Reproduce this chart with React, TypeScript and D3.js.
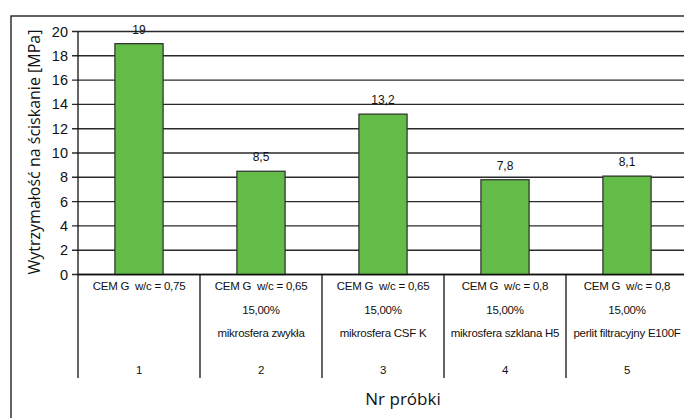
import React from "react";
import * as d3 from "d3";

const samples = ["1", "2", "3", "4", "5"];
const values = [19, 8.5, 13.2, 7.8, 8.1];
const valueLabels = ["19", "8,5", "13,2", "7,8", "8,1"];
const mixLines = [
  "CEM G  w/c = 0,75",
  "CEM G  w/c = 0,65",
  "CEM G  w/c = 0,65",
  "CEM G  w/c = 0,8",
  "CEM G  w/c = 0,8",
];
const dosage = ["", "15,00%", "15,00%", "15,00%", "15,00%"];
const additive = [
  "",
  "mikrosfera zwykła",
  "mikrosfera CSF K",
  "mikrosfera szklana H5",
  "perlit filtracyjny E100F",
];
const yTicks = [0, 2, 4, 6, 8, 10, 12, 14, 16, 18, 20];

const W = 684;
const H = 418;
const plotLeft = 78;
const plotRight = 688;
const plotTop = 31.5;
const plotBottom = 274.5;

export default function App() {
  const x = d3.scaleBand<string>().domain(samples).range([plotLeft, plotRight]).paddingInner(0).paddingOuter(0);
  const y = d3.scaleLinear().domain([0, 20]).range([plotBottom, plotTop]);
  const bw = x.bandwidth();
  const barW = bw * 0.395;
  const font = "'Liberation Sans', Arial, sans-serif";

  return (
    <svg
      width={W}
      height={H}
      style={{ position: "absolute", left: 0, top: 0, background: "#fff" }}
    >
      {/* chart frame */}
      <rect x={11} y={16} width={W + 20} height={H + 20} fill="#fff" stroke="#111" strokeWidth={1.3} />

      {/* gridlines */}
      {yTicks.map((t) => (
        <line
          key={"g" + t}
          x1={plotLeft - 6}
          x2={plotRight}
          y1={y(t)}
          y2={y(t)}
          stroke="#2a2a2a"
          strokeWidth={1.4}
        />
      ))}
      {yTicks.map((t) => (
        <text
          key={"t" + t}
          x={plotLeft - 10}
          y={y(t)}
          dy="0.35em"
          textAnchor="end"
          fontFamily={font}
          fontSize={14.5}
          fill="#111"
        >
          {t}
        </text>
      ))}

      {/* bars */}
      {values.map((v, i) => {
        const cx = (x(samples[i]) as number) + bw / 2;
        return (
          <g key={"b" + i}>
            <rect
              x={cx - barW / 2}
              y={y(v)}
              width={barW}
              height={y(0) - y(v)}
              fill="#63bc47"
              stroke="#2b2b2b"
              strokeWidth={1.2}
            />
            <text
              x={cx}
              y={y(v) - 10}
              textAnchor="middle"
              fontFamily={font}
              fontSize={12}
              fill="#111"
            >
              {valueLabels[i]}
            </text>
          </g>
        );
      })}

      {/* axes */}
      <line x1={plotLeft} x2={plotLeft} y1={plotTop} y2={plotBottom} stroke="#111" strokeWidth={1.3} />
      <line x1={plotLeft} x2={plotRight} y1={plotBottom} y2={plotBottom} stroke="#111" strokeWidth={1.3} />

      {/* category dividers */}
      {samples.map((s, i) => (
        <line
          key={"d" + i}
          x1={x(s) as number}
          x2={x(s) as number}
          y1={plotBottom}
          y2={378}
          stroke="#111"
          strokeWidth={1.3}
        />
      ))}

      {/* multi-level category labels */}
      {samples.map((s, i) => {
        const cx = (x(s) as number) + bw / 2;
        return (
          <g
            key={"c" + i}
            fontFamily={font}
            fontSize={11.5}
            letterSpacing={-0.25}
            fill="#111"
            textAnchor="middle"
          >
            <text x={cx} y={290} style={{ whiteSpace: "pre" }}>
              {mixLines[i]}
            </text>
            {dosage[i] && (
              <text x={cx} y={314}>
                {dosage[i]}
              </text>
            )}
            {additive[i] && (
              <text x={cx} y={337}>
                {additive[i]}
              </text>
            )}
            <text x={cx} y={374}>
              {s}
            </text>
          </g>
        );
      })}

      {/* axis titles */}
      <text
        transform={`translate(40, 152) rotate(-90)`}
        textAnchor="middle"
        fontFamily="'Open Sans', 'Noto Sans', sans-serif"
        fontSize={16}
        fill="#111"
      >
        Wytrzymałość na ściskanie [MPa]
      </text>
      <text
        x={403}
        y={405}
        textAnchor="middle"
        fontFamily="'Open Sans', 'Noto Sans', sans-serif"
        fontSize={17}
        fill="#111"
      >
        Nr próbki
      </text>
    </svg>
  );
}
